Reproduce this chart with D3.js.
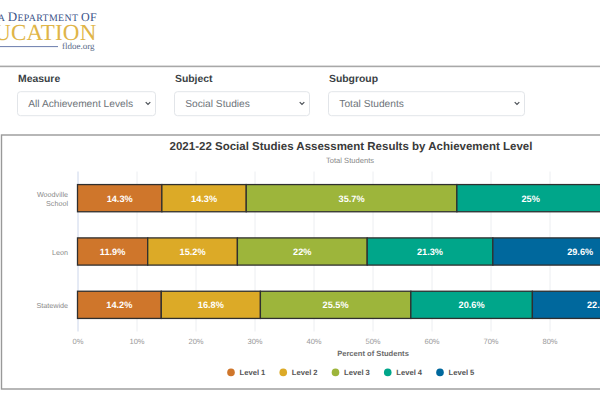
<!DOCTYPE html>
<html><head><meta charset="utf-8">
<script src="https://d3js.org/d3.v7.min.js"></script>
<style>html,body{margin:0;padding:0;background:#fff;overflow:hidden}svg{display:block}text{font-family:"Liberation Sans",Arial,sans-serif;text-rendering:geometricPrecision}</style>
</head><body><svg id="c" width="600" height="400"></svg>
<script>
const categories = ["Woodville School","Leon","Statewide"];
const levels = ["Level 1","Level 2","Level 3","Level 4","Level 5"];
const level1 = [14.3,11.9,14.2];
const level2 = [14.3,15.2,16.8];
const level3 = [35.7,22,25.5];
const level4 = [25,21.3,20.6];
const level5 = [10.7,29.6,22.9];
const colors = ["#cf762b","#dcaa27","#9db53b","#00a68a","#00689d"];
const xTicks = [0,10,20,30,40,50,60,70,80,90,100];
const filters = [["Measure","All Achievement Levels"],["Subject","Social Studies"],["Subgroup","Total Students"]];
const filterX = [17.5,174.5,328.5];
const filterW = [138,135,196];

const svg = d3.select("#c");
const series = [level1,level2,level3,level4,level5];
const serif = "'Liberation Serif',serif";

// logo
const dept = svg.append("text").attr("x",97).attr("y",20.7).attr("text-anchor","end").attr("font-size",9.9)
  .style("font-family",serif).attr("fill","#3a5288").attr("letter-spacing","0.35");
[["F",13],["LORIDA ",9.9],["D",13],["EPARTMENT ",9.9],["O",12],["F",12]].forEach(p=>{
  dept.append("tspan").attr("font-size",p[1]).text(p[0]);
});
svg.append("text").attr("x",96.5).attr("y",40.3).attr("text-anchor","end").attr("font-size",23)
  .style("font-family",serif).attr("fill","#e0b548").attr("letter-spacing","0.2").text("EDUCATION");
svg.append("line").attr("x1",0).attr("x2",58).attr("y1",46.6).attr("y2",46.6).attr("stroke","#5a6ea3").attr("stroke-width",0.9);
svg.append("text").attr("x",94.5).attr("y",49.2).attr("text-anchor","end").attr("font-size",9)
  .style("font-family",serif).attr("fill","#5a6a88").text("fldoe.org");

// rules
svg.append("rect").attr("x",-3).attr("y",65.6).attr("width",610).attr("height",1.6).attr("fill","#a8a8a8");
svg.append("rect").attr("x",1.5).attr("y",135).attr("width",640).attr("height",254).attr("fill","#fff").attr("stroke","#999").attr("stroke-width",1.4);

// filters
filters.forEach((f,i)=>{
  const g = svg.append("g").attr("transform",`translate(${filterX[i]},0)`);
  g.append("text").attr("x",0.5).attr("y",82).attr("font-size",10.4).attr("font-weight","700").attr("fill","#3a3f45").text(f[0]);
  g.append("rect").attr("x",0).attr("y",91.7).attr("width",filterW[i]).attr("height",24).attr("rx",3).attr("fill","#fff").attr("stroke","#e2e5e9");
  g.append("text").attr("x",10.8).attr("y",107).attr("font-size",10.2).attr("fill","#6d7379").text(f[1]);
  g.append("path").attr("transform",`translate(${filterW[i]-7.5},103.5)`).attr("d","M-2.3,-1.3L0,1L2.3,-1.3").attr("fill","none").attr("stroke","#4a4f55").attr("stroke-width",1.2);
});

// chart
const x = d3.scaleLinear().domain([0,100]).range([77.5,667.5]);
const y = d3.scaleBand().domain(categories).range([171.5,331.5]).paddingInner(0.49).paddingOuter(0.245);

svg.append("text").attr("x",351).attr("y",150).attr("text-anchor","middle").attr("font-size",11.5).attr("font-weight","700").attr("fill","#3a3a3a").text("2021-22 Social Studies Assessment Results by Achievement Level");
svg.append("text").attr("x",350).attr("y",163).attr("text-anchor","middle").attr("font-size",7.6).attr("fill","#8a8a8a").text("Total Students");

const grid = svg.append("g").attr("transform","translate(0,331.5)")
  .call(d3.axisBottom(x).tickValues(xTicks).tickFormat(d=>d+"%").tickSize(-160).tickPadding(7));
grid.select(".domain").remove();
grid.selectAll(".tick line").attr("stroke","#eceef1");
grid.selectAll(".tick:first-of-type line").attr("stroke","#ccd6eb");
grid.selectAll(".tick text").attr("font-size",7.6).attr("fill","#9a9a9a").style("font-family","'Liberation Sans',Arial,sans-serif");

const yAxis = svg.append("g");
const yLines = {"Woodville School":["Woodville","School"],"Leon":["Leon"],"Statewide":["Statewide"]};
categories.forEach(c=>{
  const ls = yLines[c], cy = y(c)+y.bandwidth()/2;
  ls.forEach((l,i)=>{
    yAxis.append("text").attr("x",68).attr("y",cy+3-(ls.length-1)*4.5+i*9).attr("text-anchor","end").attr("font-size",7.2).attr("fill","#8a8a8a").text(l);
  });
});

categories.forEach((c,ci)=>{
  let acc = 0;
  series.forEach((s,si)=>{
    const v = s[ci];
    svg.append("rect").attr("x",x(acc)).attr("y",y(c)).attr("width",x(acc+v)-x(acc)).attr("height",y.bandwidth())
      .attr("fill",colors[si]).attr("stroke","#2f2f2f").attr("stroke-width",1.3);
    svg.append("text").attr("x",x(acc+v/2)).attr("y",y(c)+y.bandwidth()/2+3.4).attr("text-anchor","middle")
      .attr("font-size",9.2).attr("font-weight","700").attr("fill","#fff").text(v+"%");
    acc += v;
  });
});

svg.append("text").attr("x",373).attr("y",355.5).attr("text-anchor","middle").attr("font-size",7.6).attr("font-weight","700").attr("fill","#6b6b6b").text("Percent of Students");

const legendX = d3.scalePoint().domain(levels).range([231,440]);
levels.forEach((l,i)=>{
  svg.append("circle").attr("cx",legendX(l)).attr("cy",372.4).attr("r",3.8).attr("fill",colors[i]);
  svg.append("text").attr("x",legendX(l)+8.6).attr("y",375.2).attr("font-size",7.6).attr("font-weight","700").attr("fill","#555").text(l);
});
</script></body></html>
